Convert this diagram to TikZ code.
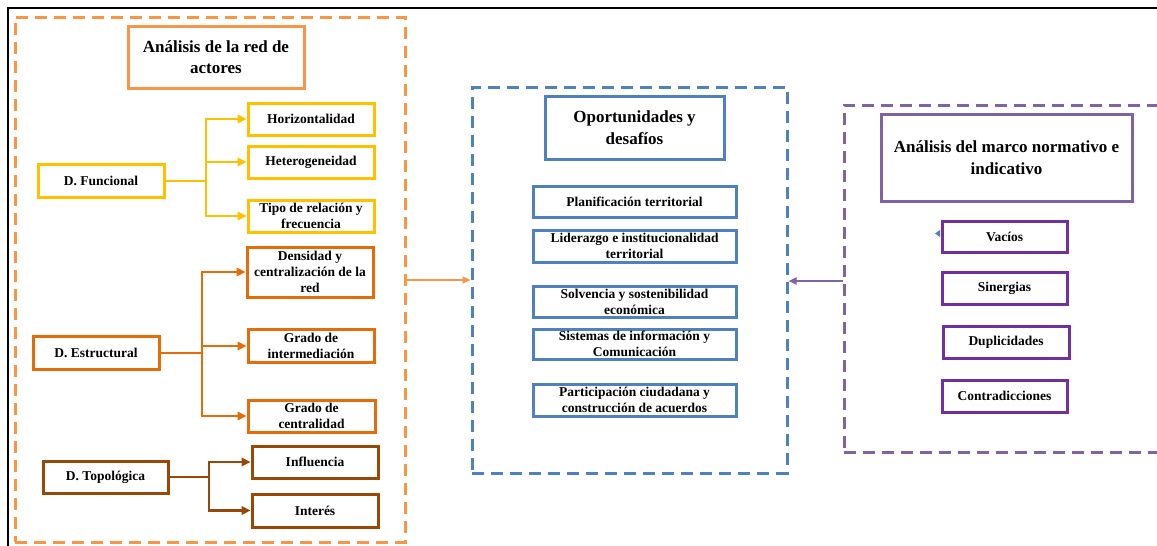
\documentclass[tikz,border=0pt]{standalone}
\usepackage{fontspec}
\setmainfont{Liberation Serif}
\usetikzlibrary{arrows.meta}
\definecolor{frameorange}{HTML}{F79646}
\definecolor{funyellow}{HTML}{FFC000}
\definecolor{estorange}{HTML}{E46C0A}
\definecolor{topobrown}{HTML}{984807}
\definecolor{oppblue}{HTML}{4F81BD}
\definecolor{normpurple}{HTML}{8064A2}
\definecolor{itempurple}{HTML}{7030A0}
\begin{document}
\begin{tikzpicture}[x=1pt,y=-1pt,
  box/.style={draw, line width=3pt, fill=white, inner sep=0pt, align=center,
    font=\fontsize{13.5}{16}\selectfont\bfseries},
  titlebox/.style={box, font=\fontsize{17}{21.5}\selectfont\bfseries},
  group/.style={draw, line width=3pt, dash pattern=on 12pt off 7pt, inner sep=0pt},
  link/.style={line width=2.6pt, -{Triangle[length=9pt,width=8.5pt]}},
  plain/.style={line width=2.6pt}]
\useasboundingbox (0,0) rectangle (1157,546);
\clip (0,0) rectangle (1157,546);
\fill[white] (0,0) rectangle (1157,546);
% outer frame
\draw[line width=2pt] (8,8) rectangle (1220,620);

% dashed groups
\node[group, draw=frameorange, minimum width=390pt, minimum height=525pt] (red) at (210,279.5) {};
\node[group, draw=oppblue, minimum width=315pt, minimum height=386pt] (opo) at (629.5,280) {};
\node[group, draw=normpurple, minimum width=326pt, minimum height=347pt] (mar) at (1007,278.5) {};

% actor network analysis
\node[titlebox, draw=frameorange, minimum width=176pt, minimum height=62pt] (tred) at (216,57) {Análisis de la red de\\actores};

\node[box, draw=funyellow, minimum width=126pt, minimum height=33pt] (fun) at (101,181) {D. Funcional};
\node[box, draw=funyellow, minimum width=126pt, minimum height=32pt] (hor) at (311,119) {Horizontalidad};
\node[box, draw=funyellow, minimum width=126pt, minimum height=32pt] (het) at (311,162) {Heterogeneidad};
\node[box, draw=funyellow, minimum width=126pt, minimum height=32pt] (tip) at (311,216) {Tipo de relación y\\frecuencia};

\node[box, draw=estorange, minimum width=126pt, minimum height=33pt] (est) at (96,353) {D. Estructural};
\node[box, draw=estorange, minimum width=126pt, minimum height=50pt] (den) at (310,272) {Densidad y\\centralización de la\\red};
\node[box, draw=estorange, minimum width=126pt, minimum height=33pt] (int) at (311,346) {Grado de\\intermediación};
\node[box, draw=estorange, minimum width=127pt, minimum height=32pt] (cen) at (311.5,416) {Grado de\\centralidad};

\node[box, draw=topobrown, minimum width=125pt, minimum height=32pt] (top) at (105.5,477) {D. Topológica};
\node[box, draw=topobrown, minimum width=126pt, minimum height=32pt] (inf) at (315,462) {Influencia};
\node[box, draw=topobrown, minimum width=126pt, minimum height=33pt] (ite) at (315,510.5) {Interés};

\coordinate (jf) at (206,181);
\coordinate (je) at (202,353);
\coordinate (jt) at (209,477);
\draw[plain, funyellow] (fun.east) -- (jf);
\draw[link, funyellow] (jf) |- (hor.west);
\draw[link, funyellow] (jf) |- (het.west);
\draw[link, funyellow] (jf) |- (tip.west);
\draw[plain, estorange] (est.east) -- (je);
\draw[link, estorange] (je) |- (den.west);
\draw[link, estorange] (je) |- (int.west);
\draw[link, estorange] (je) |- (cen.west);
\draw[plain, topobrown] (top.east) -- (jt);
\draw[link, topobrown] (jt) |- (inf.west);
\draw[link, topobrown] (jt) |- (ite.west);

% opportunities and challenges
\node[titlebox, draw=oppblue, minimum width=179pt, minimum height=63pt] (topo) at (634.5,127.5) {Oportunidades y\\desafíos};
\node[box, draw=oppblue, minimum width=203pt, minimum height=31pt] (pla) at (634.5,201.5) {Planificación territorial};
\node[box, draw=oppblue, minimum width=203pt, minimum height=32pt] (lid) at (634.5,246) {Liderazgo e institucionalidad\\territorial};
\node[box, draw=oppblue, minimum width=203pt, minimum height=31pt] (sol) at (634.5,301.5) {Solvencia y sostenibilidad\\económica};
\node[box, draw=oppblue, minimum width=203pt, minimum height=30pt] (sis) at (634.5,344) {Sistemas de información y\\Comunicación};
\node[box, draw=oppblue, minimum width=203pt, minimum height=32pt] (par) at (634.5,400) {Participación ciudadana y\\construcción de acuerdos};

% normative framework
\node[titlebox, draw=normpurple, minimum width=251pt, minimum height=87pt] (tmar) at (1006.5,157.5) {Análisis del marco normativo e\\indicativo};
\node[box, draw=itempurple, minimum width=125pt, minimum height=31pt] (vac) at (1004.5,236.5) {Vacíos};
\node[box, draw=itempurple, minimum width=125pt, minimum height=32pt] (sin) at (1004.5,288) {Sinergias};
\node[box, draw=itempurple, minimum width=126pt, minimum height=32pt] (dup) at (1006,342) {Duplicidades};
\node[box, draw=itempurple, minimum width=125pt, minimum height=32pt] (con) at (1004.5,396) {Contradicciones};
\fill[oppblue] (935,233.5) -- (940,230) -- (940,237) -- cycle;

% links between the groups
\draw[line width=2.2pt, frameorange, -{Triangle[length=8pt,width=7pt]}] (red.east |- 0,280) -- (opo.west |- 0,280);
\draw[line width=2.2pt, normpurple, -{Triangle[length=8pt,width=7pt]}] (mar.west |- 0,281) -- (opo.east |- 0,281);
\end{tikzpicture}
\end{document}
